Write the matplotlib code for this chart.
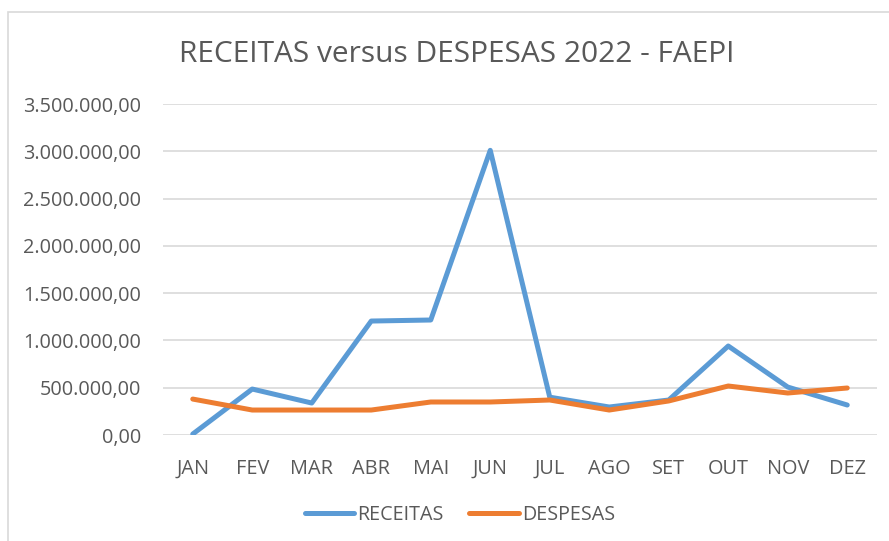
import matplotlib.pyplot as plt
from matplotlib.patches import Rectangle
from matplotlib.ticker import FuncFormatter

meses = ["JAN", "FEV", "MAR", "ABR", "MAI", "JUN", "JUL", "AGO", "SET", "OUT", "NOV", "DEZ"]
receitas = [10000, 486000, 338000, 1205000, 1216000, 3010000, 400000, 296000, 370000, 941000, 507000, 317000]
despesas = [380000, 264000, 264000, 264000, 349000, 349000, 370000, 264000, 360000, 518000, 444000, 497000]

plt.rcParams['font.family'] = ['Open Sans', 'DejaVu Sans']
cinza = '#595959'

fig = plt.figure(figsize=(8.89, 5.41), dpi=100)
# moldura do grafico (Excel)
fig.patches.append(Rectangle((8 / 889, -0.1), 1.2, 1 - 12 / 541 + 0.1, transform=fig.transFigure,
                             fill=False, edgecolor='#d9d9d9', linewidth=1.2))
ax = fig.add_axes([163 / 889, 1 - 435 / 541, 714 / 889, 331 / 541])

x = range(len(meses))
ax.plot(x, receitas, color='#5B9BD5', linewidth=3.6, solid_capstyle='round', label='RECEITAS')
ax.plot(x, despesas, color='#ED7D31', linewidth=3.6, solid_capstyle='round', label='DESPESAS')

def fmt(v, pos):
    s = f"{v:,.2f}"
    return s.replace(",", "X").replace(".", ",").replace("X", ".")

ax.set_ylim(0, 3500000)
ax.set_xlim(-0.5, 11.5)
ax.set_yticks(range(0, 3500001, 500000))
ax.yaxis.set_major_formatter(FuncFormatter(fmt))
ax.set_xticks(list(x))
ax.set_xticklabels(meses)
ax.grid(axis='y', color='#d9d9d9', linewidth=1.2)
ax.set_axisbelow(True)
for s in ax.spines.values():
    s.set_visible(False)
ax.tick_params(length=0, colors=cinza, labelsize=14.3, pad=16)
ax.tick_params(axis='x', pad=17)

fig.text(457 / 889, 1 - 55 / 541, "RECEITAS versus DESPESAS 2022 - FAEPI", ha='center', va='center',
         fontsize=21.5, color=cinza)
leg = fig.legend(loc='center', bbox_to_anchor=(460 / 889, 1 - 515 / 541), ncol=2, frameon=False,
                 fontsize=14.2, handlelength=2.5, handletextpad=0.15, columnspacing=1.3)
for t in leg.get_texts():
    t.set_color(cinza)

fig.savefig("out.png", dpi=100)
